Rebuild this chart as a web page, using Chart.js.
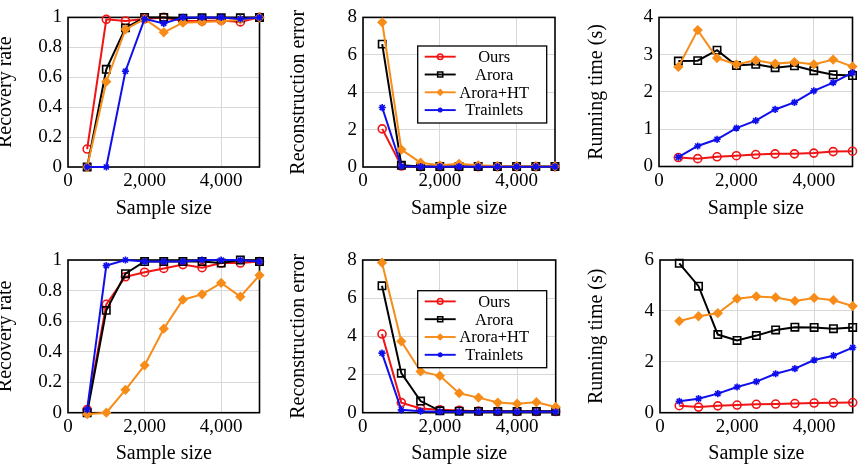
<!DOCTYPE html>
<html>
<head>
<meta charset="utf-8">
<script src="https://cdn.jsdelivr.net/npm/chart.js@4.4.1/dist/chart.umd.min.js"></script>
<style>
  body { margin: 0; background: #fff; }
  #wrap { position: relative; width: 860px; height: 470px; overflow: hidden; }
  #wrap > div { position: absolute; }
</style>
</head>
<body>
<div id="wrap">
  <div style="left:0px;top:0px;width:290px;height:235px"><canvas id="c1"></canvas></div>
  <div style="left:290px;top:0px;width:290px;height:235px"><canvas id="c2"></canvas></div>
  <div style="left:580px;top:0px;width:280px;height:235px"><canvas id="c3"></canvas></div>
  <div style="left:0px;top:235px;width:290px;height:235px"><canvas id="c4"></canvas></div>
  <div style="left:290px;top:235px;width:290px;height:235px"><canvas id="c5"></canvas></div>
  <div style="left:580px;top:235px;width:280px;height:235px"><canvas id="c6"></canvas></div>
</div>
<script>
// sample sizes on the x axis
const sampleSizes = [500, 1000, 1500, 2000, 2500, 3000, 3500, 4000, 4500, 5000];
const methods = ["Ours", "Arora", "Arora+HT", "Trainlets"];
const xTicks = [0, 2000, 4000];

// top row
const recov1Ours = [0.12, 0.987, 0.976, 0.99, 1.0, 0.976, 0.976, 0.98, 0.97, 1.0];
const recov1Arora = [0, 0.653, 0.93, 1.0, 1.0, 0.995, 0.997, 0.997, 0.997, 1.0];
const recov1HT = [0, 0.57, 0.92, 0.99, 0.90, 0.965, 0.97, 0.975, 0.985, 1.0];
const recov1Trainlets = [0, 0, 0.64, 0.99, 0.96, 1.0, 1.0, 1.0, 0.99, 1.0];

const err1Ours = [2.04, 0.05, 0.02, 0.02, 0.02, 0.02, 0.02, 0.02, 0.02, 0.02];
const err1Arora = [6.57, 0.09, 0.03, 0.03, 0.03, 0.03, 0.03, 0.03, 0.03, 0.03];
const err1HT = [7.74, 0.93, 0.23, 0.09, 0.17, 0.09, 0.05, 0.04, 0.04, 0.03];
const err1Trainlets = [3.18, 0.04, 0.02, 0.02, 0.02, 0.02, 0.02, 0.02, 0.02, 0.02];

const time1Ours = [0.24, 0.21, 0.26, 0.29, 0.32, 0.34, 0.34, 0.36, 0.40, 0.41];
const time1Arora = [2.83, 2.84, 3.12, 2.71, 2.74, 2.65, 2.70, 2.57, 2.46, 2.44];
const time1HT = [2.67, 3.66, 2.91, 2.74, 2.85, 2.76, 2.80, 2.74, 2.87, 2.68];
const time1Trainlets = [0.25, 0.55, 0.73, 1.03, 1.23, 1.53, 1.72, 2.03, 2.25, 2.52];

// bottom row
const recov2Ours = [0.02, 0.71, 0.89, 0.92, 0.945, 0.97, 0.95, 0.98, 0.98, 0.99];
const recov2Arora = [0, 0.67, 0.91, 0.99, 0.99, 0.99, 0.99, 0.98, 1.0, 0.99];
const recov2HT = [-0.01, 0, 0.15, 0.31, 0.55, 0.74, 0.775, 0.85, 0.76, 0.90];
const recov2Trainlets = [0.02, 0.963, 1.0, 0.99, 0.99, 0.99, 1.0, 1.0, 1.0, 0.99];

const err2Ours = [4.12, 0.53, 0.22, 0.15, 0.12, 0.08, 0.07, 0.06, 0.06, 0.06];
const err2Arora = [6.65, 2.07, 0.61, 0.1, 0.08, 0.07, 0.07, 0.07, 0.07, 0.07];
const err2HT = [7.86, 3.74, 2.16, 1.93, 1.02, 0.79, 0.53, 0.47, 0.55, 0.3];
const err2Trainlets = [3.12, 0.15, 0.08, 0.05, 0.05, 0.05, 0.05, 0.05, 0.05, 0.05];

const time2Ours = [0.275, 0.22, 0.27, 0.30, 0.33, 0.34, 0.36, 0.38, 0.39, 0.40];
const time2Arora = [5.87, 4.97, 3.07, 2.84, 3.03, 3.25, 3.36, 3.35, 3.30, 3.35];
const time2HT = [3.60, 3.79, 3.91, 4.48, 4.57, 4.53, 4.39, 4.51, 4.42, 4.19];
const time2Trainlets = [0.45, 0.55, 0.75, 1.01, 1.22, 1.53, 1.73, 2.07, 2.24, 2.56];

const FONT = "'Liberation Serif', 'Times New Roman', serif";

// line / marker look of each method
const looks = [
  { color: "rgb(240,20,20)", pointStyle: "circle", radius: 4, fill: "rgba(0,0,0,0)" },
  { color: "#000000", pointStyle: "rect", radius: 5.2, fill: "rgba(0,0,0,0)" },
  { color: "rgb(247,140,25)", pointStyle: "rectRot", radius: 4, fill: "rgb(247,140,25)" },
  { color: "rgb(15,15,235)", pointStyle: "star", radius: 3.6, fill: "rgb(15,15,235)" },
];

// black box round the plot area
const framePlugin = {
  id: "frame",
  beforeDatasetsDraw(chart) {
    const { ctx, chartArea: a } = chart;
    ctx.save();
    ctx.strokeStyle = "#000";
    ctx.lineWidth = 1.6;
    ctx.strokeRect(a.left, a.top, a.right - a.left, a.bottom - a.top);
    ctx.restore();
  },
};

// legend drawn inside the plot, pgfplots style
const boxLegend = {
  id: "boxLegend",
  afterDatasetsDraw(chart, args, o) {
    if (!o || !o.show) return;
    const ctx = chart.ctx;
    ctx.save();
    ctx.fillStyle = "#fff";
    ctx.fillRect(o.x, o.y, o.w, o.h);
    ctx.strokeStyle = "#000";
    ctx.lineWidth = 1.3;
    ctx.strokeRect(o.x, o.y, o.w, o.h);
    ctx.font = "16.5px " + FONT;
    ctx.textAlign = "center";
    ctx.textBaseline = "middle";
    chart.data.datasets.forEach((ds, i) => {
      const lk = looks[i];
      const y = o.y + o.first + i * o.row;
      ctx.strokeStyle = lk.color;
      ctx.lineWidth = 1.9;
      ctx.beginPath();
      ctx.moveTo(o.x + 7, y);
      ctx.lineTo(o.x + 38, y);
      ctx.stroke();
      ctx.fillStyle = lk.fill;
      ctx.lineWidth = 1.5;
      Chart.helpers.drawPoint(ctx, { pointStyle: lk.pointStyle, radius: lk.radius * 0.7, rotation: 0, borderWidth: 1.5 }, o.x + 22.5, y);
      ctx.fillStyle = "#000";
      ctx.fillText(ds.label, o.x + 76.5, y + 1);
    });
    ctx.restore();
  },
};

function makeDatasets(series) {
  return series.map((vals, i) => ({
    label: methods[i],
    data: sampleSizes.map((x, k) => ({ x: x, y: vals[k] })),
    borderColor: looks[i].color,
    backgroundColor: looks[i].fill,
    pointBackgroundColor: looks[i].fill,
    pointBorderColor: looks[i].color,
    pointStyle: looks[i].pointStyle,
    pointRadius: looks[i].radius,
    pointBorderWidth: 1.6,
    borderWidth: 2,
    tension: 0,
    clip: false,
    order: 4 - i,
  }));
}

function makeChart(id, p) {
  new Chart(document.getElementById(id), {
    type: "line",
    data: { datasets: makeDatasets(p.series) },
    plugins: [framePlugin, boxLegend],
    options: {
      responsive: true,
      maintainAspectRatio: false,
      animation: false,
      layout: { padding: { left: 0, top: p.padTop, right: p.padRight, bottom: 0 } },
      plugins: {
        legend: { display: false },
        tooltip: { enabled: false },
        boxLegend: p.legend || { show: false },
      },
      scales: {
        x: {
          type: "linear",
          min: 0,
          max: 5000,
          afterBuildTicks: (s) => { s.ticks = xTicks.map((v) => ({ value: v })); },
          afterFit: (s) => { s.height = p.xHeight; },
          grid: { color: "#d8d8d8", lineWidth: 1, drawTicks: false },
          border: { display: false },
          ticks: { padding: 3, color: "#000", maxRotation: 0, font: { family: FONT, size: 19 } },
          title: {
            display: true,
            text: "Sample size",
            color: "#000",
            font: { family: FONT, size: 20 },
            padding: { top: 0, bottom: p.xTitlePad },
          },
        },
        y: {
          min: 0,
          max: p.yMax,
          afterFit: (s) => { s.width = p.yWidth; },
          grid: { color: "#d8d8d8", lineWidth: 1, drawTicks: false },
          border: { display: false },
          ticks: {
            stepSize: p.yStep,
            padding: 6,
            color: "#000",
            font: { family: FONT, size: 19 },
            callback: (v) => String(Math.round(v * 10) / 10),
          },
          title: {
            display: true,
            text: p.yTitle,
            color: "#000",
            font: { family: FONT, size: 20 },
            padding: { top: p.yTitlePad, bottom: 0 },
          },
        },
      },
    },
  });
}

const legendTop = { show: true, x: 127.7, y: 46, w: 129, h: 77, first: 10.7, row: 17.8 };
const legendBottom = { show: true, x: 127.7, y: 55.7, w: 129, h: 77, first: 10.7, row: 17.8 };

makeChart("c1", { series: [recov1Ours, recov1Arora, recov1HT, recov1Trainlets], yMax: 1, yStep: 0.2,
  yTitle: "Recovery rate", padTop: 14.5, padRight: 30.5, yWidth: 68, xHeight: 68, xTitlePad: 14, yTitlePad: -6 });
makeChart("c2", { series: [err1Ours, err1Arora, err1HT, err1Trainlets], yMax: 8, yStep: 2,
  yTitle: "Reconstruction error", padTop: 14.5, padRight: 25, yWidth: 73, xHeight: 68, xTitlePad: 14, yTitlePad: -3, legend: legendTop });
makeChart("c3", { series: [time1Ours, time1Arora, time1HT, time1Trainlets], yMax: 4, yStep: 1,
  yTitle: "Running time (s)", padTop: 15.5, padRight: 7.5, yWidth: 79, xHeight: 68.5, xTitlePad: 14, yTitlePad: 5 });

makeChart("c4", { series: [recov2Ours, recov2Arora, recov2HT, recov2Trainlets], yMax: 1, yStep: 0.2,
  yTitle: "Recovery rate", padTop: 25, padRight: 30.5, yWidth: 68, xHeight: 57.3, xTitlePad: 4.3, yTitlePad: -6 });
makeChart("c5", { series: [err2Ours, err2Arora, err2HT, err2Trainlets], yMax: 8, yStep: 2,
  yTitle: "Reconstruction error", padTop: 25, padRight: 24.3, yWidth: 72.7, xHeight: 57.3, xTitlePad: 4.3, yTitlePad: -3, legend: legendBottom });
makeChart("c6", { series: [time2Ours, time2Arora, time2HT, time2Trainlets], yMax: 6, yStep: 2,
  yTitle: "Running time (s)", padTop: 25, padRight: 7.3, yWidth: 80, xHeight: 57.3, xTitlePad: 4.3, yTitlePad: 5 });
</script>
</body>
</html>
